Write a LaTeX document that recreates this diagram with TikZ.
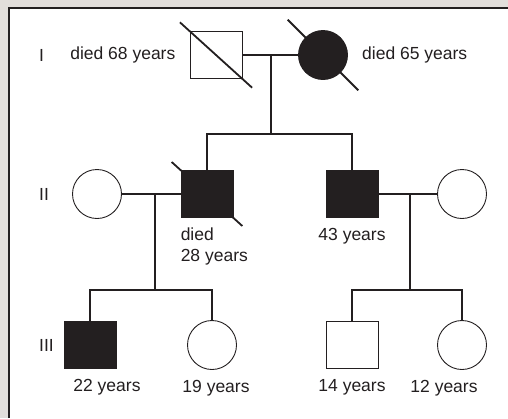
\documentclass[tikz,border=0pt]{standalone}
\usepackage{fontspec}
\setmainfont{Liberation Sans}
\usepackage{tikz}
\usetikzlibrary{positioning}
\definecolor{bggrey}{HTML}{E2DEDB}
\definecolor{ink}{HTML}{231F20}

\begin{document}
\begin{tikzpicture}[
    x=1pt, y=-1pt,
    color=ink,
    male/.style={rectangle, draw=ink, line width=0.9pt, minimum width=52pt, minimum height=47pt, inner sep=0pt},
    female/.style={circle, draw=ink, line width=0.9pt, minimum size=49pt, inner sep=0pt},
    affected/.style={fill=ink},
    conn/.style={draw=ink, line width=1.8pt},
    deceased/.style={draw=ink, line width=1.8pt, shorten <=-#1, shorten >=-#1},
    age/.style={inner sep=0pt, text=ink, font=\fontsize{17.5}{21}\selectfont},
    gen/.style={age, anchor=west}
]
\useasboundingbox (0,0) rectangle (508,418);

% Frame
\fill[bggrey] (0,0) rectangle (508,418);
\fill[white] (9,8) rectangle (508,418);
\draw[line width=1.3pt] (9,418) -- (9,8) -- (508,8);

% Generation I
\node[male] (ia) at (216,55) {};
\node[female, affected] (ib) at (323,55) {};
\draw[deceased=13pt] (ia.north west) -- (ia.south east);
\draw[deceased=25pt] (ib.north west) -- (ib.south east);
\node[age, left=14pt of ia] (ia-age) {died 68 years};
\node[age, right=14pt of ib] (ib-age) {died 65 years};
\node[gen] (g1) at (39,55) {I};

% Generation II
\node[female] (iia) at (97,194) {};
\node[male, affected] (iib) at (207,194) {};
\node[male, affected] (iic) at (352,194) {};
\node[female] (iid) at (462,194) {};
\draw[deceased=12pt] (iib.north west) -- (iib.south east);
\node[age, below=10pt of iib.south west, anchor=north west, align=left] (iib-age) {died\\28 years};
\node[age, below=10pt of iic] (iic-age) {43 years};
\node[gen] (g2) at (39,194) {II};

% Generation III
\node[male, affected] (iiia) at (90,345) {};
\node[female] (iiib) at (212,345) {};
\node[male] (iiic) at (352,345) {};
\node[female] (iiid) at (462,345) {};
\node[age, below=10pt of iiia, xshift=17pt] (iiia-age) {22 years};
\node[age, below=10pt of iiib, xshift=4pt] (iiib-age) {19 years};
\node[age, below=10pt of iiic] (iiic-age) {14 years};
\node[age, below=10pt of iiid, xshift=-18pt] (iiid-age) {12 years};
\node[gen] (g3) at (39,345) {III};

% Couples and descent
\coordinate (m1) at (271,55);
\coordinate (s1) at (271,134);
\coordinate (m2) at (155,194);
\coordinate (s2) at (155,290);
\coordinate (m3) at (410,194);
\coordinate (s3) at (410,290);

\draw[conn] (ia) -- (ib);
\draw[conn] (m1) -- (s1);
\draw[conn] (iib.north) |- (s1) -| (iic.north);

\draw[conn] (iia) -- (iib);
\draw[conn] (iic) -- (iid);
\draw[conn] (m2) -- (s2);
\draw[conn] (m3) -- (s3);
\draw[conn] (iiia.north) |- (s2) -| (iiib.north);
\draw[conn] (iiic.north) |- (s3) -| (iiid.north);

\end{tikzpicture}
\end{document}
